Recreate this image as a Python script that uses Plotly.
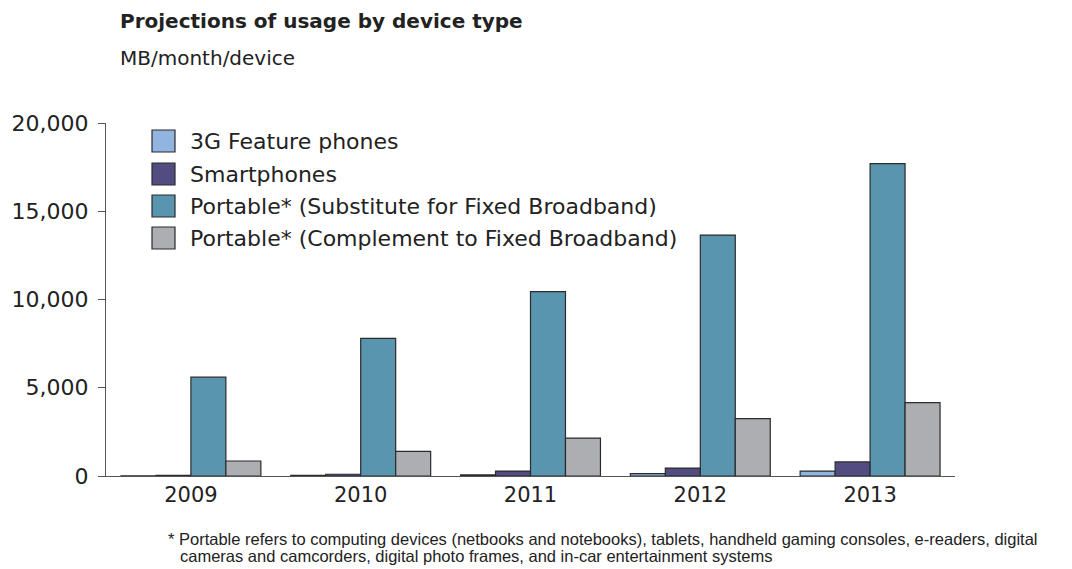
import plotly.graph_objects as go

years = ["2009", "2010", "2011", "2012", "2013"]
series_names = [
    "3G Feature phones",
    "Smartphones",
    "Portable* (Substitute for Fixed Broadband)",
    "Portable* (Complement to Fixed Broadband)",
]
feature_phones = [10, 40, 60, 140, 280]
smartphones = [40, 100, 280, 450, 800]
portable_substitute = [5600, 7800, 10450, 13650, 17700]
portable_complement = [850, 1400, 2150, 3250, 4160]
colors = ["#92b4e0", "#534c80", "#5a95b0", "#adaeb2"]
y_ticks = [0, 5000, 10000, 15000, 20000]

OFF = 8  # page body margin
W, H = 1072 - OFF, 569 - OFF
L, R, T, B = 106, 955, 123, 476  # plot area in screenshot pixels

fig = go.Figure()
for name, vals, col in zip(series_names,
                           [feature_phones, smartphones, portable_substitute, portable_complement],
                           colors):
    fig.add_trace(go.Bar(x=years, y=vals, name=name,
                         marker=dict(color=col, line=dict(color="#2b2b2b", width=1.2)),
                         showlegend=False))

def px_x(px):
    return (px - L) / (R - L)

def px_y(py):
    return (B - py) / (B - T)

TXT = "#222222"
shapes = []
annotations = []
# manual legend
row_y = [141, 174, 206, 238]
for name, col, cy in zip(series_names, colors, row_y):
    shapes.append(dict(type="rect", xref="paper", yref="paper",
                       x0=px_x(152), x1=px_x(175), y0=px_y(cy + 11), y1=px_y(cy - 11),
                       fillcolor=col, line=dict(color="#2b2b2b", width=1.2)))
    annotations.append(dict(text=name, xref="paper", yref="paper", x=px_x(188), y=px_y(cy),
                            xanchor="left", yanchor="middle", showarrow=False,
                            font=dict(family="DejaVu Sans", size=22, color=TXT)))

annotations.append(dict(text="<b>Projections of usage by device type</b>", xref="paper", yref="paper",
                        x=px_x(118), y=px_y(21), xanchor="left", yanchor="middle", showarrow=False,
                        font=dict(family="DejaVu Sans", size=20, color=TXT)))
annotations.append(dict(text="MB/month/device", xref="paper", yref="paper",
                        x=px_x(118), y=px_y(58), xanchor="left", yanchor="middle", showarrow=False,
                        font=dict(family="DejaVu Sans", size=20, color=TXT)))
foot_lines = [
    ("* Portable refers to computing devices (netbooks and notebooks), tablets, handheld gaming consoles, e-readers, digital", 166, 539),
    ("cameras and camcorders, digital photo frames, and in-car entertainment systems", 178, 556),
]
for txt, fx, fy in foot_lines:
    annotations.append(dict(text=txt, xref="paper", yref="paper", x=px_x(fx), y=px_y(fy),
                            xanchor="left", yanchor="middle", showarrow=False,
                            font=dict(family="Liberation Sans", size=16.5, color=TXT)))

fig.update_layout(
    width=W, height=H,
    margin=dict(l=L - OFF, r=W - (R - OFF), t=T - OFF, b=H - (B - OFF), pad=0, autoexpand=False),
    paper_bgcolor="white", plot_bgcolor="white",
    barmode="group", bargap=0.176, bargroupgap=0,
    shapes=shapes, annotations=annotations,
    xaxis=dict(showline=True, linecolor="#555555", linewidth=1.2, ticks="", showgrid=False,
               automargin=False,
               tickfont=dict(family="DejaVu Sans", size=21, color=TXT)),
    yaxis=dict(range=[0, 20000], tickvals=y_ticks, tickformat=",", showline=True, linecolor="#555555",
               linewidth=1.2, ticks="outside", ticklen=7, tickcolor="#555555", showgrid=False, zeroline=False,
               ticklabelstandoff=5, automargin=False,
               tickfont=dict(family="DejaVu Sans", size=22, color=TXT)),
)

fig.write_html("out.html")
